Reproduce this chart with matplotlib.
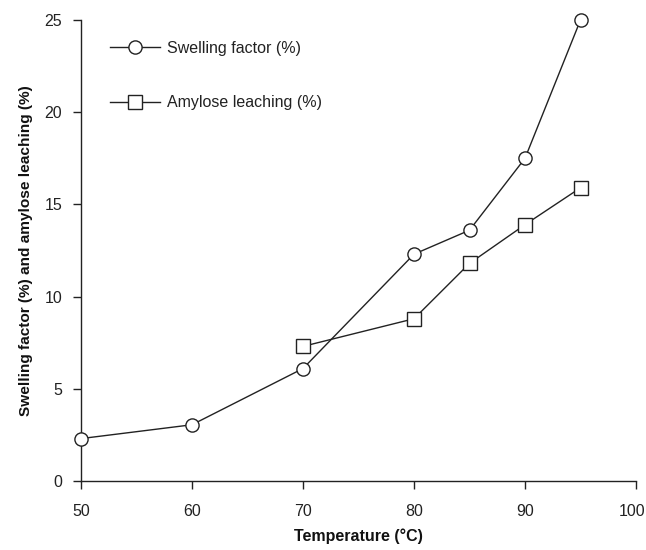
import matplotlib
matplotlib.use("Agg")
import matplotlib.pyplot as plt
import matplotlib.transforms as mtransforms

plt.rcParams['font.family'] = ['Liberation Sans', 'DejaVu Sans']

temp_swell = [50, 60, 70, 80, 85, 90, 95]
swelling = [2.3, 3.05, 6.1, 12.3, 13.6, 17.5, 25.0]
temp_amyl = [70, 80, 85, 90, 95]
amylose = [7.3, 8.8, 11.8, 13.9, 15.9]

W, H = 646, 550
fig = plt.figure(figsize=(W / 100, H / 100), dpi=100)
ax = fig.add_axes([81 / W, (H - 481) / H, 555 / W, 461 / H])

lc = '#222222'
fs = 11.5
ax.plot(temp_swell, swelling, '-', color=lc, lw=1.0, marker='o', ms=9.5,
        mfc='white', mec=lc, mew=1.0, label='Swelling factor (%)', clip_on=False, zorder=3)
ax.plot(temp_amyl, amylose, '-', color=lc, lw=1.0, marker='s', ms=9.5,
        mfc='white', mec=lc, mew=1.0, label='Amylose leaching (%)', clip_on=False, zorder=3)

ax.set_xlim(50, 100)
ax.set_ylim(0, 25)
ax.set_xticks([50, 60, 70, 80, 90, 100])
ax.set_yticks([0, 5, 10, 15, 20, 25])
for s in ['top', 'right']:
    ax.spines[s].set_visible(False)
for s in ['left', 'bottom']:
    ax.spines[s].set_color(lc)
    ax.spines[s].set_linewidth(1.0)
ax.tick_params(direction='out', length=5.5, width=1.0, color=lc, labelsize=fs,
               labelcolor='#222222')
ax.tick_params(axis='x', pad=11)
ax.tick_params(axis='y', pad=8)
ax.set_xlabel('Temperature (°C)', fontsize=fs, fontweight='bold', labelpad=7,
              color='#111111')
ax.set_ylabel('Swelling factor (%) and amylose leaching (%)', fontsize=11.1,
              fontweight='bold', labelpad=8, color='#111111')

# keep the last x tick label inside the image
fig.canvas.draw()
last = ax.get_xticklabels()[-1]
last.set_transform(last.get_transform() +
                   mtransforms.ScaledTranslation(-4 / 100, 0, fig.dpi_scale_trans))

leg = ax.legend(loc='upper left', bbox_to_anchor=(110 / W, 1 - 41 / H),
                bbox_transform=fig.transFigure, frameon=False, borderpad=0,
                borderaxespad=0, handlelength=3.1, labelspacing=2.45,
                fontsize=fs, handletextpad=0.45)
for t in leg.get_texts():
    t.set_color('#222222')

fig.savefig('out.png', dpi=100)
